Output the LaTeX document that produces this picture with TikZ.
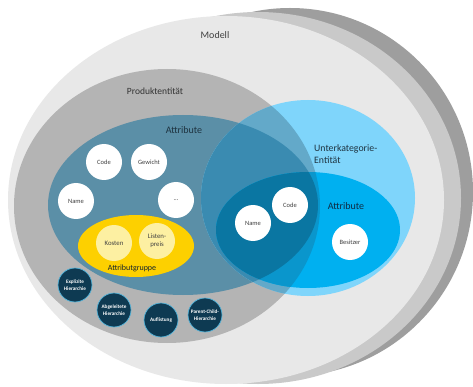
\documentclass[tikz,border=0pt]{standalone}
\usepackage{fontspec}
\setmainfont{Carlito}
\definecolor{gDark}{HTML}{9E9E9E}
\definecolor{gMid}{HTML}{C9C9C9}
\definecolor{gLight}{HTML}{E8E8E8}
\definecolor{gProd}{HTML}{B4B4B4}
\definecolor{teal}{HTML}{5B8FA7}
\definecolor{lBlue}{HTML}{7FD5FB}
\definecolor{lBlueProd}{HTML}{63A9C9}
\definecolor{lBlueTeal}{HTML}{3A8BB1}
\definecolor{sBlue}{HTML}{00B0F0}
\definecolor{sBlueProd}{HTML}{0A96CC}
\definecolor{sBlueTeal}{HTML}{0A76A2}
\definecolor{gold}{HTML}{FDD000}
\definecolor{paleGold}{HTML}{FDF0A2}
\definecolor{navy}{HTML}{0E3A52}
\definecolor{rim}{HTML}{55B6DC}
\definecolor{txtGray}{HTML}{404040}
\definecolor{txtDark}{HTML}{1E3340}
\definecolor{txtNavy}{HTML}{0F2C44}
\tikzset{
  wc/.style={circle, fill=white, minimum size=36pt, inner sep=0pt, align=center,
    font=\fontsize{6.5}{7.5}\selectfont, text=txtGray},
  yc/.style={circle, fill=paleGold, minimum size=36pt, inner sep=0pt, align=center,
    font=\fontsize{6.8}{8}\selectfont, text=txtGray},
  hc/.style={circle, fill=navy, draw=rim, line width=0.7pt, minimum size=34pt, inner sep=0pt,
    align=center, font=\fontsize{5.2}{6.6}\selectfont\bfseries, text=white},
  lbl/.style={inner sep=0pt, align=center}
}
\begin{document}
\begin{tikzpicture}[x=1pt,y=-1pt]
\useasboundingbox (0,0) rectangle (473,387);
\fill[white] (0,0) rectangle (473,387);
% outer stack
\fill[gDark] (290,192) ellipse [x radius=183pt, y radius=184pt];
\fill[gMid] (258,198) ellipse [x radius=203pt, y radius=186pt];
\fill[gLight] (226,200) ellipse [x radius=218pt, y radius=184pt];
% Produktentitaet and Attribute
\fill[gProd] (167,206) ellipse [x radius=153pt, y radius=137pt];
\fill[teal] (183,205) ellipse [x radius=135pt, y radius=90pt];
% Unterkategorie-Entitaet
\fill[lBlue] (308,198) ellipse [x radius=107pt, y radius=98pt];
\begin{scope}
  \clip (308,198) ellipse [x radius=107pt, y radius=98pt];
  \fill[lBlueProd] (167,206) ellipse [x radius=153pt, y radius=137pt];
  \fill[lBlueTeal] (183,205) ellipse [x radius=135pt, y radius=90pt];
\end{scope}
% sub Attribute
\fill[sBlue] (308,230) ellipse [x radius=92pt, y radius=58pt];
\begin{scope}
  \clip (308,230) ellipse [x radius=92pt, y radius=58pt];
  \fill[sBlueProd] (167,206) ellipse [x radius=153pt, y radius=137pt];
  \fill[sBlueTeal] (183,205) ellipse [x radius=135pt, y radius=90pt];
\end{scope}
% Attributgruppe
\fill[gold] (136,246) ellipse [x radius=58pt, y radius=31pt];

% labels
\node[lbl, text=txtGray, font=\fontsize{10}{12}\selectfont] (modell) at (215,35) {Modell};
\node[lbl, text=txtGray!80!black, font=\fontsize{9.5}{11}\selectfont] (prod) at (155,91) {Produktentität};
\node[lbl, text=txtDark, font=\fontsize{10}{12}\selectfont] (attr) at (184,130) {Attribute};
\node[lbl, anchor=west, align=left, text=txtDark, font=\fontsize{9.8}{11.6}\selectfont] (unter) at (314,154) {Unterkategorie-\\Entität};
\node[lbl, text=txtNavy, font=\fontsize{10}{12}\selectfont] (subattr) at (346,206) {Attribute};
\node[lbl, text=txtDark!70!black, font=\fontsize{8}{9.6}\selectfont] (grp) at (132,268) {Attributgruppe};

% white circles in Attribute
\node[wc] (code) at (104,162) {Code};
\node[wc] (gewicht) at (149,162) {Gewicht};
\node[wc] (name) at (76,201) {Name};
\node[wc] (dots) at (176,200) {...};
% yellow circles
\node[yc] (kosten) at (114,243) {Kosten};
\node[yc] (listen) at (157,241) {Listen-\\preis};
% sub-attribute circles
\node[wc] (scode) at (290,205) {Code};
\node[wc] (sname) at (253,223) {Name};
\node[wc] (besitzer) at (350,242) {Besitzer};
% hierarchy circles
\node[hc] (expl) at (75,285) {Explizite\\Hierarchie};
\node[hc] (abg) at (114,310) {Abgeleitete\\Hierarchie};
\node[hc] (aufl) at (161,320) {Auflistung};
\node[hc] (pch) at (205,315) {Parent-Child-\\Hierarchie};
\end{tikzpicture}
\end{document}
